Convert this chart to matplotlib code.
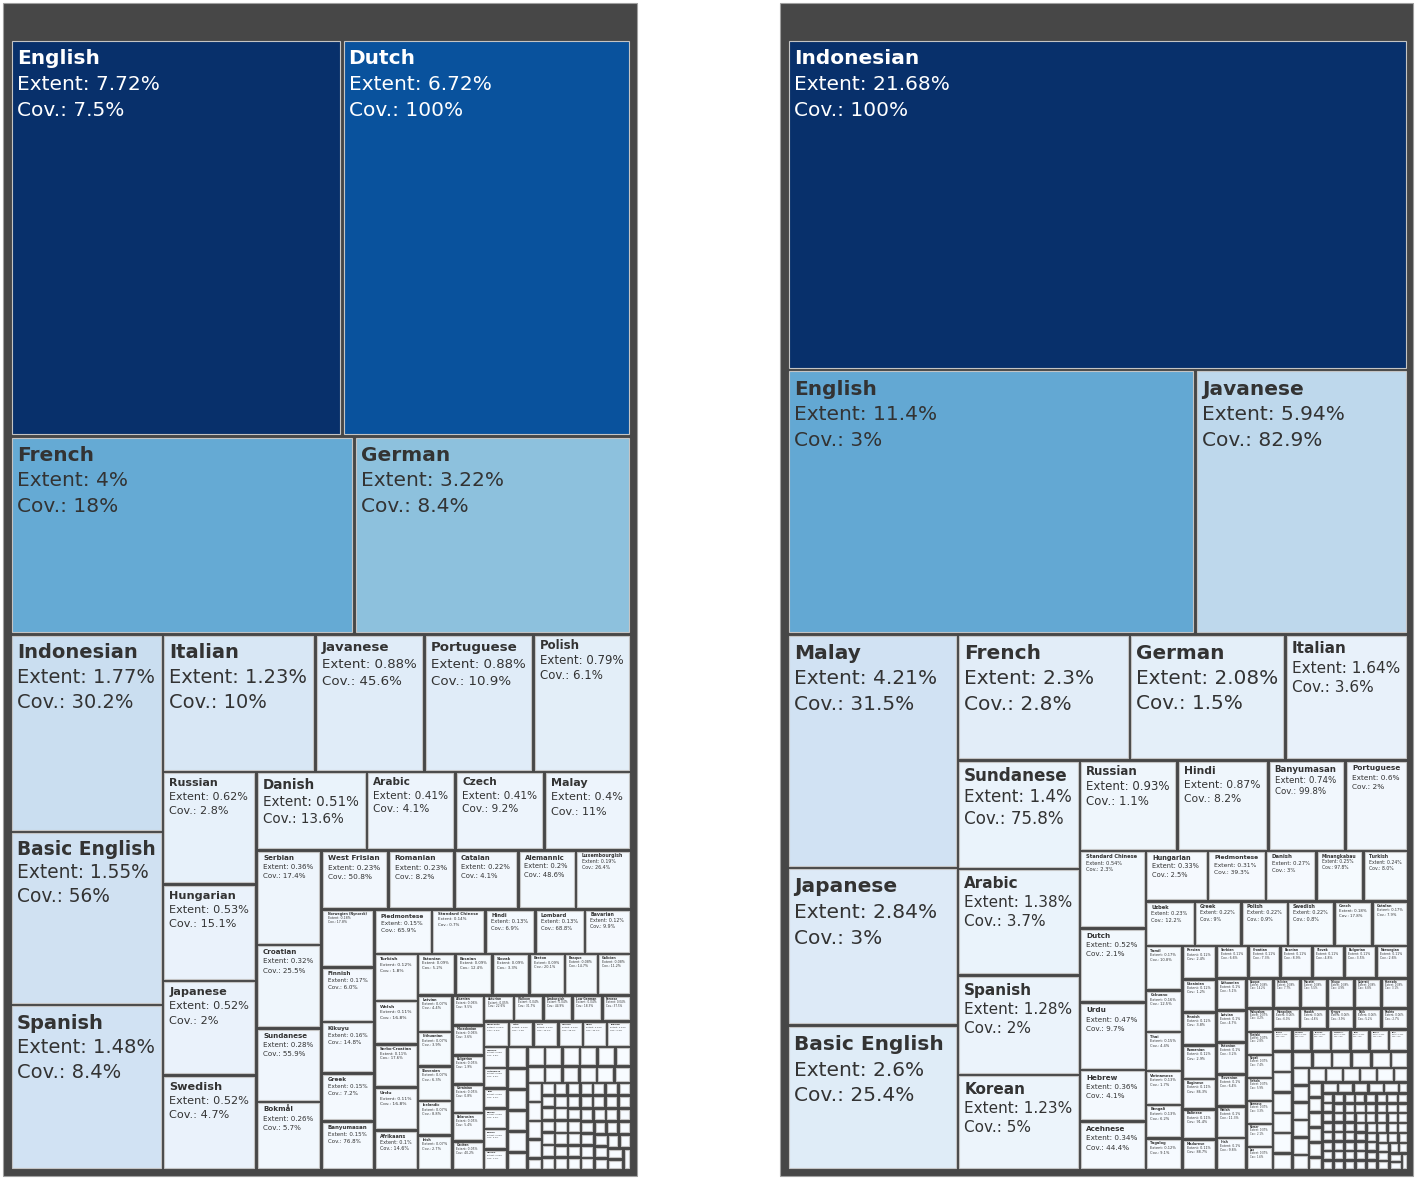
import matplotlib
matplotlib.use("Agg")
import matplotlib.pyplot as plt
from matplotlib.patches import Rectangle
from matplotlib.font_manager import FontProperties
from matplotlib import colormaps

# ---------------- LEFT TREEMAP DATA ----------------
left_names = [
    "English", "Dutch", "French", "German", "Indonesian", "Basic English", "Spanish",
    "Italian", "Javanese", "Portuguese", "Polish", "Russian", "Hungarian", "Japanese",
    "Swedish", "Danish", "Arabic", "Czech", "Malay", "Serbian", "Croatian", "Sundanese",
    "Bokmål", "West Frisian", "Romanian", "Catalan", "Alemannic", "Luxembourgish",
    "Norwegian (Nynorsk)", "Finnish", "Kikuyu", "Greek", "Banyumasan", "Piedmontese",
    "Standard Chinese", "Hindi", "Lombard", "Bavarian", "Turkish", "Welsh",
    "Serbo-Croatian", "Urdu", "Afrikaans",
    "Estonian", "Bosnian", "Slovak", "Breton", "Basque", "Galician",
    "Latvian", "Lithuanian", "Slovenian", "Icelandic", "Irish",
    "Albanian", "Macedonian", "Bulgarian", "Ukrainian", "Belarusian", "Occitan",
    "Asturian", "Walloon", "Limburgish", "Low German", "Faroese",
    "Esperanto", "Latin", "Scots", "Cornish", "Manx", "Tagalog",
    "Cebuano", "Vietnamese", "Thai", "Korean", "Persian", "Hebrew",
]
left_extent = [
    7.72, 6.72, 4.0, 3.22, 1.77, 1.55, 1.48,
    1.23, 0.88, 0.88, 0.79, 0.62, 0.53, 0.52,
    0.52, 0.51, 0.41, 0.41, 0.40, 0.36, 0.32, 0.28,
    0.26, 0.23, 0.23, 0.22, 0.20, 0.19,
    0.18, 0.17, 0.16, 0.15, 0.15, 0.15,
    0.14, 0.13, 0.13, 0.12, 0.12, 0.11,
    0.11, 0.11, 0.10,
    0.09, 0.09, 0.09, 0.085, 0.08, 0.08,
    0.075, 0.07, 0.07, 0.07, 0.07,
    0.055, 0.055, 0.053, 0.053, 0.052, 0.052,
    0.046, 0.045, 0.045, 0.045, 0.044,
    0.038, 0.037, 0.037, 0.037, 0.036, 0.036,
    0.029, 0.028, 0.028, 0.028, 0.028, 0.028,
]
left_tail_extent = [
    0.026, 0.025, 0.025, 0.025, 0.025,
    0.021, 0.020, 0.020, 0.020, 0.020, 0.020,
    0.018, 0.017, 0.017, 0.017, 0.017, 0.017,
    0.016, 0.016, 0.016, 0.016, 0.016,
    0.0095, 0.0095, 0.0095, 0.0095, 0.0095, 0.0095, 0.0095,
    0.0095, 0.0095, 0.0095, 0.0095, 0.0095, 0.0095, 0.0095,
    0.0095, 0.0095, 0.0095, 0.0095, 0.0095, 0.0095, 0.0095,
    0.0095, 0.0095, 0.0095, 0.0095, 0.0095, 0.0095, 0.0095,
    0.0095, 0.0095, 0.0095, 0.0095, 0.0095, 0.0095, 0.0095,
    0.0095, 0.0095, 0.0095, 0.0095, 0.0095, 0.0095, 0.0095,
    0.0095, 0.0095, 0.0095, 0.0095, 0.0095, 0.0095, 0.0095,
]
left_cov = [
    "7.5", "100", "18", "8.4", "30.2", "56", "8.4",
    "10", "45.6", "10.9", "6.1", "2.8", "15.1", "2",
    "4.7", "13.6", "4.1", "9.2", "11", "17.4", "25.5", "55.9",
    "5.7", "50.8", "8.2", "4.1", "48.6", "26.4",
    "17.8", "6.0", "14.8", "7.2", "76.8", "65.9",
    "0.7", "6.9", "68.8", "9.9", "1.8", "16.8",
    "17.6", "16.8", "14.6",
    "5.2", "12.4", "3.3", "20.1", "14.7", "11.2",
    "4.4", "3.9", "6.3", "8.8", "2.7",
    "9.5", "3.6", "1.9", "0.8", "5.4", "40.2",
    "22.6", "31.7", "44.9", "18.3", "37.5",
    "2.2", "1.3", "12.9", "28.4", "33.1", "0.6",
    "0.5", "0.3", "0.4", "0.2", "0.4", "1.1",
]

# ---------------- RIGHT TREEMAP DATA ----------------
right_names = [
    "Indonesian", "English", "Javanese", "Malay", "Japanese", "Basic English",
    "French", "German", "Italian", "Sundanese", "Arabic", "Spanish", "Korean",
    "Russian", "Hindi", "Banyumasan", "Portuguese", "Standard Chinese", "Dutch",
    "Urdu", "Hebrew", "Acehnese", "Hungarian", "Piedmontese", "Danish",
    "Minangkabau", "Turkish", "Uzbek", "Greek", "Polish", "Swedish", "Czech",
    "Catalan",
    "Tamil", "Cebuano", "Thai", "Vietnamese", "Bengali", "Tagalog",
    "Persian", "Ukrainian", "Finnish", "Romanian", "Buginese", "Balinese", "Madurese",
    "Serbian", "Croatian", "Bosnian", "Slovak", "Bulgarian", "Norwegian",
    "Lithuanian", "Latvian", "Estonian", "Slovenian", "Welsh", "Irish",
    "Basque", "Galician", "Marathi", "Telugu", "Gujarati", "Kannada",
    "Malayalam", "Punjabi", "Nepali", "Sinhala", "Burmese", "Khmer", "Lao",
    "Mongolian", "Kazakh", "Kyrgyz", "Tajik", "Pashto",
    "Kurdish", "Armenian", "Georgian", "Azerbaijani", "Tatar", "Bashkir", "Latin",
]
right_extent = [
    21.68, 11.4, 5.94, 4.21, 2.84, 2.6,
    2.3, 2.08, 1.64, 1.4, 1.38, 1.28, 1.23,
    0.93, 0.87, 0.74, 0.6, 0.54, 0.52,
    0.47, 0.36, 0.34, 0.33, 0.31, 0.27,
    0.25, 0.24, 0.23, 0.22, 0.22, 0.22, 0.18,
    0.17,
    0.17, 0.16, 0.15, 0.13, 0.13, 0.12,
    0.12, 0.12, 0.12, 0.12, 0.11, 0.11, 0.11,
    0.11, 0.11, 0.11, 0.11, 0.11, 0.11,
    0.10, 0.10, 0.10, 0.10, 0.10, 0.10,
    0.086, 0.086, 0.086, 0.086, 0.086, 0.086,
    0.065, 0.065, 0.065, 0.065, 0.065, 0.065, 0.065,
    0.06, 0.06, 0.06, 0.06, 0.06,
    0.045, 0.045, 0.045, 0.045, 0.045, 0.045, 0.045,
]
right_tail_extent = [
    0.042, 0.042, 0.042, 0.042, 0.042,
    0.034, 0.034, 0.034, 0.034, 0.034, 0.034,
    0.030, 0.030, 0.030, 0.030, 0.030, 0.030,
    0.026, 0.026, 0.026, 0.026, 0.026, 0.026,
    0.022, 0.022, 0.022, 0.022, 0.022, 0.022,
    0.018, 0.018, 0.018, 0.018, 0.018, 0.018,
    0.011, 0.011, 0.011, 0.011, 0.011, 0.011, 0.011, 0.011,
    0.011, 0.011, 0.011, 0.011, 0.011, 0.011, 0.011, 0.011,
    0.011, 0.011, 0.011, 0.011, 0.011, 0.011, 0.011, 0.011,
    0.011, 0.011, 0.011, 0.011, 0.011, 0.011, 0.011, 0.011,
    0.011, 0.011, 0.011, 0.011, 0.011, 0.011, 0.011, 0.011,
    0.011, 0.011, 0.011, 0.011, 0.011, 0.011, 0.011, 0.011,
    0.011, 0.011, 0.011, 0.011, 0.011, 0.011, 0.011, 0.011,
    0.011, 0.011, 0.011, 0.011, 0.011, 0.011, 0.011, 0.011,
]
right_cov = [
    "100", "3", "82.9", "31.5", "3", "25.4",
    "2.8", "1.5", "3.6", "75.8", "3.7", "2", "5",
    "1.1", "8.2", "99.8", "2", "2.3", "2.1",
    "9.7", "4.1", "44.4", "2.5", "39.3", "3",
    "97.8", "8.0", "12.2", "9", "0.9", "0.8", "17.8",
    "7.9",
    "10.8", "12.5", "4.4", "1.7", "6.2", "9.1",
    "2.4", "1.2", "3.8", "2.9", "86.3", "91.4", "88.7",
    "6.6", "7.3", "8.9", "4.8", "3.5", "2.6",
    "5.1", "4.7", "3.2", "6.4", "11.3", "9.8",
    "14.2", "7.7", "5.5", "4.9", "6.8", "3.1",
    "4.2", "2.8", "7.4", "5.9", "3.3", "2.1", "1.6",
    "6.0", "4.6", "3.9", "5.2", "2.7",
    "3.4", "6.1", "4.3", "2.5", "7.0", "5.6", "1.4",
]

# ---------------- LAYOUT (squarify) ----------------


def squarify(values, x0, y0, x1, y1, ratio=1.0):
    n = len(values)
    rects = [None] * n
    i0 = i1 = 0
    value = float(sum(values))
    while i0 < n:
        dx, dy = x1 - x0, y1 - y0
        sumv = values[i1]
        i1 += 1
        minv = maxv = sumv
        alpha = max(dy / dx, dx / dy) / (value * ratio)
        beta = sumv * sumv * alpha
        minratio = max(maxv / beta, beta / minv)
        while i1 < n:
            nv = values[i1]
            sumv += nv
            minv = min(minv, nv)
            maxv = max(maxv, nv)
            beta = sumv * sumv * alpha
            newratio = max(maxv / beta, beta / minv)
            if newratio > minratio:
                sumv -= nv
                break
            minratio = newratio
            i1 += 1
        if dx < dy:
            yb = y0 + dy * sumv / value if value else y1
            xx = x0
            for i in range(i0, i1):
                w = dx * values[i] / sumv
                rects[i] = (xx, y0, xx + w, yb)
                xx += w
            y0 = yb
        else:
            xb = x0 + dx * sumv / value if value else x1
            yy = y0
            for i in range(i0, i1):
                h = dy * values[i] / sumv
                rects[i] = (x0, yy, xb, yy + h)
                yy += h
            x0 = xb
        value -= sumv
        i0 = i1
    return rects


W, H = 1418, 1179
fig = plt.figure(figsize=(W / 100, H / 100), dpi=100)
fig.patch.set_facecolor("white")
ax = fig.add_axes([0, 0, 1, 1])
ax.set_xlim(0, W)
ax.set_ylim(H, 0)
ax.axis("off")
renderer = fig.canvas.get_renderer()
cmap = colormaps["Blues"]


def text_w(s, bold):
    fp = FontProperties(family="DejaVu Sans", size=10, weight="bold" if bold else "normal")
    w, h, d = renderer.get_text_width_height_descent(s, fp, ismath=False)
    return w


def fmt(v):
    r = round(v, 2)
    return f"{r:.2f}".rstrip("0").rstrip(".")


def draw_panel(frame, area, names, extents, covs):
    fx0, fy0, fx1, fy1 = frame
    ax.add_patch(Rectangle((fx0, fy0), fx1 - fx0, fy1 - fy0, facecolor="#474747",
                           edgecolor="#a0a0a0", linewidth=0.8, zorder=1))
    rects = squarify(extents, *area)
    vmax = max(extents)
    inset = 1.8
    for i, (x0, y0, x1, y1) in enumerate(rects):
        t = extents[i] / vmax
        face = cmap(t)
        rx, ry = x0 + inset, y0 + inset
        rw, rh = (x1 - x0) - 2 * inset, (y1 - y0) - 2 * inset
        if rw <= 0 or rh <= 0:
            continue
        ax.add_patch(Rectangle((rx, ry), rw, rh, facecolor=face, edgecolor="#c4c4c4",
                               linewidth=0.8, zorder=2))
        if i >= len(names):
            continue
        lines = [(names[i], True), (f"Extent: {fmt(extents[i])}%", False),
                 (f"Cov.: {covs[i]}%", False)]
        maxw10 = max(text_w(s, b) for s, b in lines)
        pad = min(5.0, 0.09 * rw)
        avail = rw - 2 * pad - 1
        size = min(14.5, 10 * avail / maxw10)
        fs_px = size * 100 / 72
        if fs_px * 3.9 > rh:
            fs_px = rh / 3.9
            size = fs_px * 72 / 100
        if size < 0.8:
            continue
        col = "white" if t > 0.62 else "#333333"
        for k, (s, b) in enumerate(lines):
            yb = ry + fs_px * (1.15 + 1.27 * k)
            ax.text(rx + pad, yb, s, fontsize=size, fontweight="bold" if b else "normal",
                    family="DejaVu Sans", color=col, ha="left", va="baseline", zorder=3)


draw_panel((3, 3, 637, 1176), (10, 39.5, 630.5, 1169.5), left_names,
           left_extent + left_tail_extent, left_cov)
draw_panel((780, 3, 1413, 1176), (787, 39.5, 1408, 1169.5), right_names,
           right_extent + right_tail_extent, right_cov)

fig.savefig("out.png", dpi=100, facecolor="white")
